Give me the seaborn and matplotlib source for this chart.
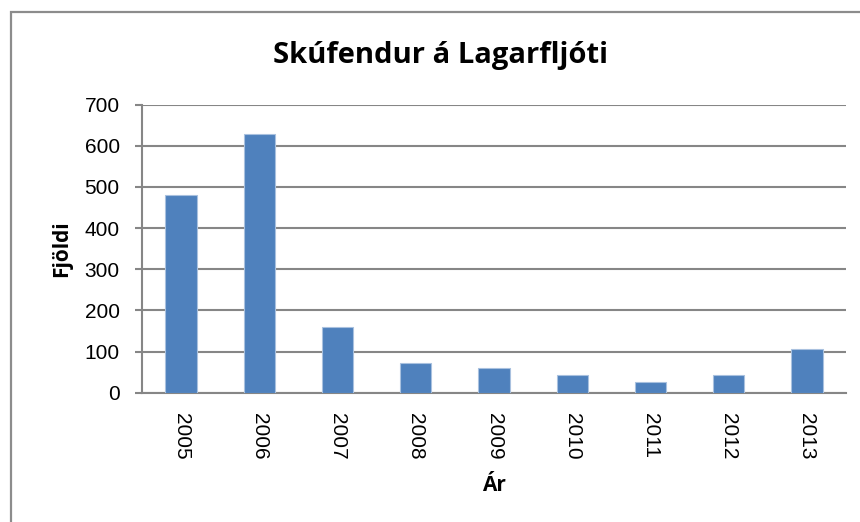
import matplotlib
matplotlib.use("Agg")
import matplotlib.pyplot as plt
import seaborn as sns
import pandas as pd
from matplotlib.patches import Rectangle

years = ["2005", "2006", "2007", "2008", "2009", "2010", "2011", "2012", "2013"]
counts = [480, 628, 159, 71, 59, 42, 27, 42, 106]
yticks = [0, 100, 200, 300, 400, 500, 600, 700]

title = "Skúfendur á Lagarfljóti"
xlabel = "Ár"
ylabel = "Fjöldi"

df = pd.DataFrame({"year": years, "count": counts})

sns.set_style("white")
plt.rcParams["font.family"] = ["Liberation Sans", "DejaVu Sans"]
plt.rcParams["text.color"] = "black"
plt.rcParams["axes.labelcolor"] = "black"

W, H = 860, 522
fig = plt.figure(figsize=(W / 100, H / 100), dpi=100)
ax = fig.add_axes([142 / W, 1 - 392.7 / H, (846 - 142) / W, (392.7 - 104.7) / H])

sns.barplot(data=df, x="year", y="count", ax=ax, color="#4F81BD",
            saturation=1, width=0.4, edgecolor="#A9C1DF", linewidth=0.8, zorder=3)

gray = "#868686"
ax.set_ylim(0, 700)
ax.set_xlim(-0.5, len(years) - 0.5)
ax.set_yticks(yticks)
ax.set_yticklabels([str(v) for v in yticks], fontsize=15)
ax.yaxis.grid(True, color=gray, linewidth=1.5, zorder=0)
ax.xaxis.grid(False)
ax.set_axisbelow(True)
for s in ["top", "right"]:
    ax.spines[s].set_visible(False)
for s in ["left", "bottom"]:
    ax.spines[s].set_color(gray)
    ax.spines[s].set_linewidth(1.5)
ax.tick_params(axis="y", which="major", left=True, length=5, width=1.5, color=gray,
               labelcolor="black", pad=11)
ax.tick_params(axis="x", which="major", bottom=False, labelcolor="black", pad=11)
ax.set_xticks(range(len(years)))
ax.set_xticklabels(years, rotation=-90, fontsize=15, va="top", ha="center")

ax.set_xlabel(xlabel, fontsize=15, fontweight="bold", family=["Open Sans", "DejaVu Sans"],
              labelpad=11, color="black")
ax.set_ylabel(ylabel, fontsize=15, fontweight="bold", family=["Open Sans", "DejaVu Sans"],
              labelpad=9, color="black")

fig.text(441 / W, 1 - 55 / H, title, fontsize=21, fontweight="bold", color="black",
         family=["Open Sans", "DejaVu Sans"], ha="center", va="center")

fig.patches.append(Rectangle((11 / W, -0.1), 1.2, 1 - 12 / H + 0.1, transform=fig.transFigure,
                             fill=False, edgecolor="#8C8C8C", linewidth=1.6, zorder=10))

fig.savefig("out.png", dpi=100)
